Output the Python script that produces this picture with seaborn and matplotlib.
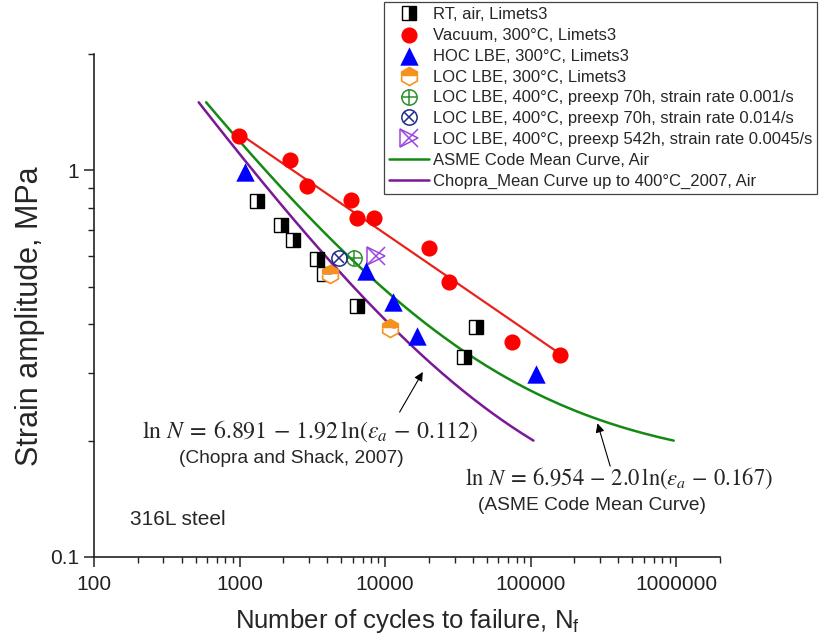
import numpy as np
import pandas as pd
import matplotlib
matplotlib.use("Agg")
import matplotlib.pyplot as plt
import seaborn as sns
from matplotlib.ticker import LogLocator, FuncFormatter, NullFormatter

# ---- test data: cycles to failure (N) and strain amplitude (%) ----
# RT, air, Limets3
rt_n = [1320, 1920, 2330, 3390, 3790, 6400, 41800, 35100]
rt_eps = [0.831, 0.724, 0.662, 0.590, 0.539, 0.445, 0.394, 0.330]

# Vacuum, 300°C, Limets3
vac_n = [990, 2210, 2910, 5860, 6400, 8340, 20000, 27400, 74100, 160000]
vac_eps = [1.224, 1.061, 0.911, 0.837, 0.755, 0.755, 0.631, 0.514, 0.360, 0.334]

# trend line through the vacuum results
vac_fit_n = [1000, 160000]
vac_fit_eps = [1.244, 0.335]

# HOC LBE, 300°C, Limets3
hoc_n = [1090, 7430, 11350, 16500, 109000]
hoc_eps = [0.990, 0.548, 0.456, 0.373, 0.297]

# LOC LBE, 300°C, Limets3
loc300_n = [4160, 10740]
loc300_eps = [0.540, 0.390]

# LOC LBE, 400°C pre-exposed specimens
loc400_70h_slow_n = [6080]
loc400_70h_slow_eps = [0.595]
loc400_70h_fast_n = [4820]
loc400_70h_fast_eps = [0.595]
loc400_542h_n = [8700]
loc400_542h_eps = [0.600]

# mean curves: ln N = A - B * ln(eps - C)
asme_coef = [6.954, 2.0, 0.167]
chopra_coef = [6.891, 1.92, 0.112]
curve_eps_range = [0.2, 1.5]

labels = [
    "RT, air, Limets3",
    "Vacuum, 300°C, Limets3",
    "HOC LBE, 300°C, Limets3",
    "LOC LBE, 300°C, Limets3",
    "LOC LBE, 400°C, preexp 70h, strain rate 0.001/s",
    "LOC LBE, 400°C, preexp 70h, strain rate 0.014/s",
    "LOC LBE, 400°C, preexp 542h, strain rate 0.0045/s",
    "ASME Code Mean Curve, Air",
    "Chopra_Mean Curve up to 400°C_2007, Air",
]

sns.set_theme(style="ticks")
plt.rcParams["font.family"] = ["Liberation Sans", "DejaVu Sans"]
plt.rcParams["mathtext.fontset"] = "stix"

fig = plt.figure(figsize=(8.28, 6.42), dpi=100)
ax = fig.add_axes([94 / 828, 1 - 557 / 642, 626 / 828, 503 / 642])


def mean_curve(coef):
    a, b, c = coef
    eps = np.linspace(curve_eps_range[0], curve_eps_range[1], 300)
    n = np.exp(a - b * np.log(eps - c))
    return pd.DataFrame({"N": n, "eps": eps})


line_kw = dict(estimator=None, errorbar=None, sort=False, legend=False)

# mean curves
asme = mean_curve(asme_coef)
sns.lineplot(data=asme, x="N", y="eps", color="#138a13", lw=1.8, ax=ax, **line_kw)
h_asme = ax.lines[-1]
chopra = mean_curve(chopra_coef)
sns.lineplot(data=chopra, x="N", y="eps", color="#7a1896", lw=1.8, ax=ax, **line_kw)
h_chopra = ax.lines[-1]

# vacuum trend line
sns.lineplot(x=vac_fit_n, y=vac_fit_eps, color="#e8231c", lw=1.6, ax=ax, **line_kw)

# RT air: half-filled squares
sns.lineplot(x=rt_n, y=rt_eps, marker="s", linestyle="", markersize=10,
             fillstyle="right", markerfacecolor="black", markerfacecoloralt="white",
             markeredgecolor="black", markeredgewidth=1.0, ax=ax, **line_kw)
h_rt = ax.lines[-1]

# vacuum
sns.scatterplot(x=vac_n, y=vac_eps, marker="o", s=135, color="#ff0000",
                linewidth=0, ax=ax, legend=False, zorder=3)
h_vac = ax.collections[-1]

# HOC LBE
sns.scatterplot(x=hoc_n, y=hoc_eps, marker="^", s=175, color="#0000ff",
                linewidth=0, ax=ax, legend=False, zorder=3)
h_hoc = ax.collections[-1]

# LOC LBE 300°C: half-filled hexagons
sns.lineplot(x=loc300_n, y=loc300_eps, marker="h", linestyle="", markersize=13,
             fillstyle="top", markerfacecolor="#f7911e", markerfacecoloralt="white",
             markeredgecolor="#f7911e", markeredgewidth=1.2, ax=ax, **line_kw)
h_loc300 = ax.lines[-1]

# LOC LBE 400°C, 70h, 0.001/s: circle with plus
green_c = "#2b8f2b"
sns.lineplot(x=loc400_70h_slow_n, y=loc400_70h_slow_eps, marker="o", linestyle="",
             markersize=11, markerfacecolor="none", markeredgecolor=green_c,
             markeredgewidth=1.1, ax=ax, **line_kw)
h_g1 = ax.lines[-1]
sns.lineplot(x=loc400_70h_slow_n, y=loc400_70h_slow_eps, marker="+", linestyle="",
             markersize=11, markeredgecolor=green_c, markeredgewidth=1.1, ax=ax, **line_kw)
h_g2 = ax.lines[-1]

# LOC LBE 400°C, 70h, 0.014/s: circle with cross
navy_c = "#1f2a8a"
sns.lineplot(x=loc400_70h_fast_n, y=loc400_70h_fast_eps, marker="o", linestyle="",
             markersize=11, markerfacecolor="none", markeredgecolor=navy_c,
             markeredgewidth=1.1, ax=ax, **line_kw)
h_n1 = ax.lines[-1]
sns.lineplot(x=loc400_70h_fast_n, y=loc400_70h_fast_eps, marker="x", linestyle="",
             markersize=7.8, markeredgecolor=navy_c, markeredgewidth=1.1, ax=ax, **line_kw)
h_n2 = ax.lines[-1]

# LOC LBE 400°C, 542h: triangle with cross
purple_c = "#9b45e0"
sns.lineplot(x=loc400_542h_n, y=loc400_542h_eps, marker=">", linestyle="",
             markersize=13, markerfacecolor="none", markeredgecolor=purple_c,
             markeredgewidth=1.1, ax=ax, **line_kw)
h_p1 = ax.lines[-1]
sns.lineplot(x=loc400_542h_n, y=loc400_542h_eps, marker="x", linestyle="",
             markersize=13, markeredgecolor=purple_c, markeredgewidth=1.1, ax=ax, **line_kw)
h_p2 = ax.lines[-1]

# axes
ax.set_xscale("log")
ax.set_yscale("log")
ax.set_xlim(100, 2e6)
ax.set_ylim(0.1, 2)
ax.xaxis.set_major_locator(LogLocator(base=10, numticks=10))
ax.xaxis.set_minor_locator(LogLocator(base=10, subs=np.arange(2, 10), numticks=20))
ax.yaxis.set_major_locator(LogLocator(base=10, numticks=10))
ax.yaxis.set_minor_locator(LogLocator(base=10, subs=np.arange(2, 10), numticks=20))
ax.xaxis.set_major_formatter(FuncFormatter(lambda v, p: f"{int(round(v))}"))
ax.yaxis.set_major_formatter(FuncFormatter(lambda v, p: f"{v:g}"))
ax.xaxis.set_minor_formatter(NullFormatter())
ax.yaxis.set_minor_formatter(NullFormatter())
sns.despine(ax=ax)
for sp in ("left", "bottom"):
    ax.spines[sp].set_color("#222222")
    ax.spines[sp].set_linewidth(1.2)
ax.tick_params(which="major", direction="out", length=7, width=1.1,
               labelsize=15, colors="#222222")
ax.tick_params(which="minor", direction="out", length=4, width=1.0, colors="#222222")
ax.tick_params(axis="x", which="major", pad=6)

ax.set_xlabel(r"Number of cycles to failure, $\mathregular{N_f}$", fontsize=18.5, labelpad=9)
ax.set_ylabel("Strain amplitude, MPa", fontsize=22)
ax.yaxis.set_label_coords(-0.078, 0.479)

# equations and annotations
ax.text(0.345, 0.2505,
        r"$\ln\,N\:=\:6.891\,-\,1.92\,\ln(\varepsilon_a\,-\,0.112)$",
        transform=ax.transAxes, ha="center", va="center", fontsize=17.2)
ax.text(0.316, 0.195, "(Chopra and Shack, 2007)", transform=ax.transAxes,
        ha="center", va="center", fontsize=13.8)
ax.text(0.839, 0.157,
        r"$\ln\,N\:=\:6.954\,-\,2.0\,\ln(\varepsilon_a\,-\,0.167)$",
        transform=ax.transAxes, ha="center", va="center", fontsize=16.3)
ax.text(0.796, 0.103, "(ASME Code Mean Curve)", transform=ax.transAxes,
        ha="center", va="center", fontsize=13.8)
ax.text(0.0575, 0.0755, "316L steel", transform=ax.transAxes,
        ha="left", va="center", fontsize=15)

arrow = dict(arrowstyle="-|>", color="black", lw=0.8, mutation_scale=13,
             shrinkA=0, shrinkB=0)
ax.annotate("", xy=(18150, 0.301), xytext=(12580, 0.237), arrowprops=arrow)
ax.annotate("", xy=(288000, 0.2216), xytext=(352000, 0.1718), arrowprops=arrow)

handles = [h_rt, h_vac, h_hoc, h_loc300, (h_g1, h_g2), (h_n1, h_n2), (h_p1, h_p2),
           h_asme, h_chopra]
leg = ax.legend(handles, labels, loc="upper right",
                bbox_to_anchor=(817 / 828, 640 / 642), bbox_transform=fig.transFigure,
                fontsize=12, frameon=True, fancybox=False, framealpha=1,
                edgecolor="#444444", borderpad=0.3, labelspacing=0.35,
                handlelength=2.4, handletextpad=0.2, borderaxespad=0)
leg.get_frame().set_linewidth(0.9)

fig.savefig("out.png", dpi=100)
